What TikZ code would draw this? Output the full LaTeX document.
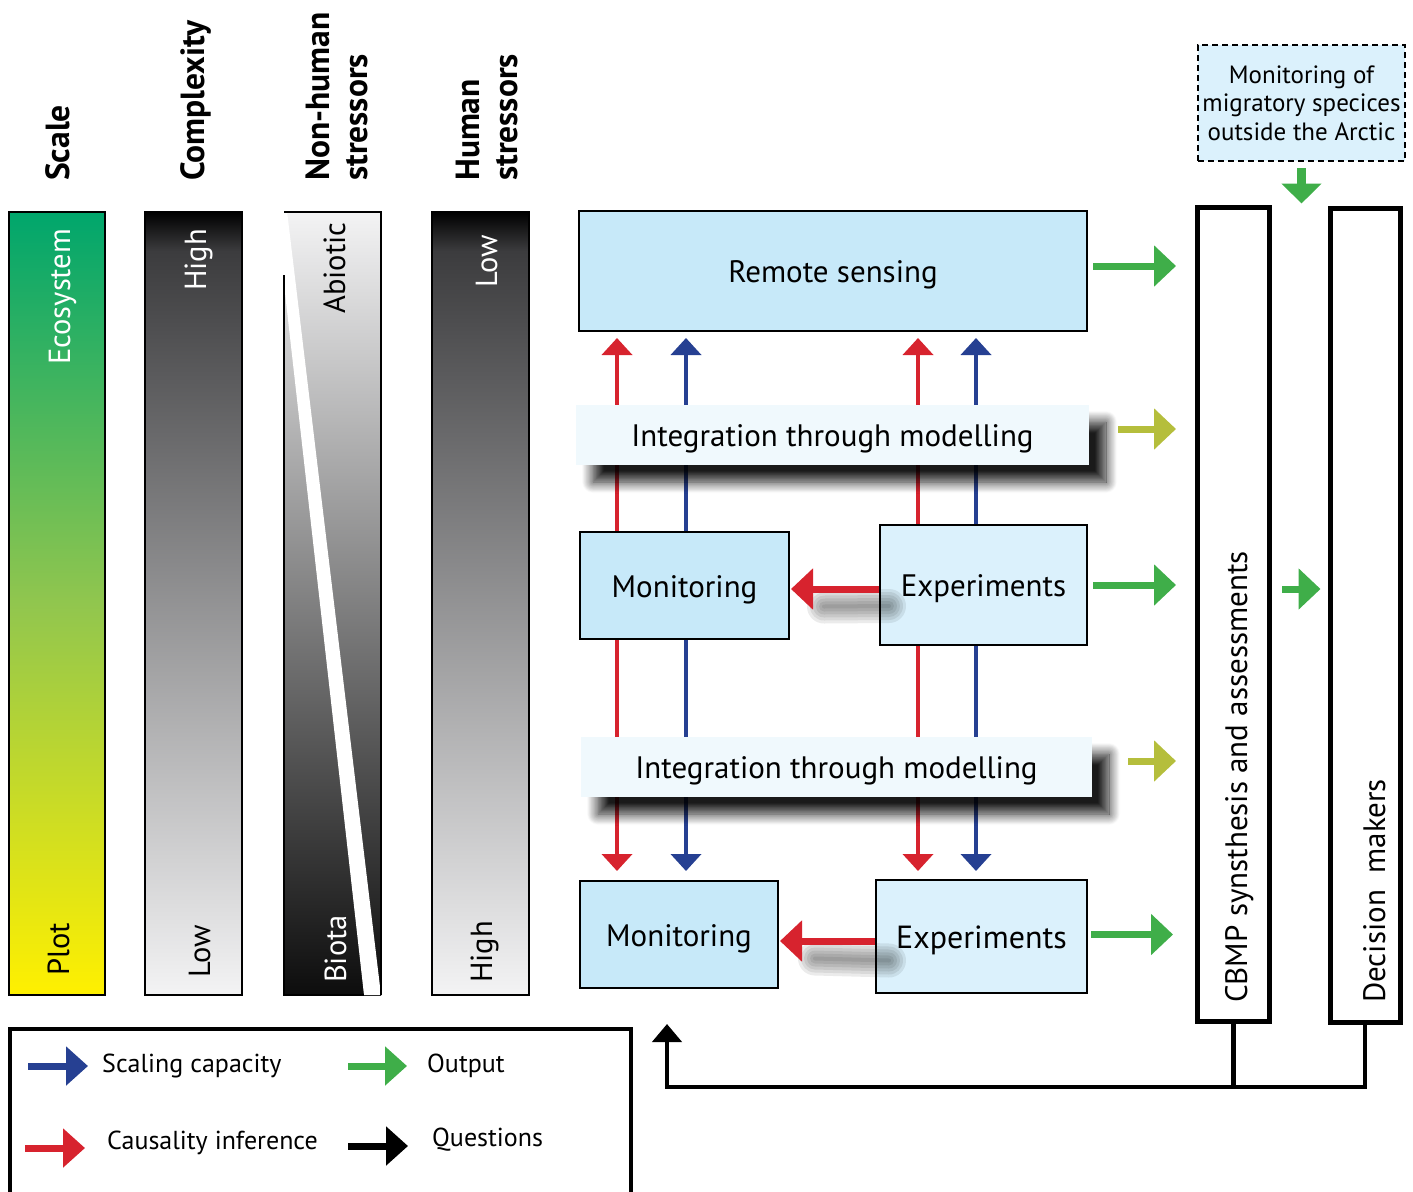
\documentclass[tikz,border=0pt]{standalone}
\usepackage{fontspec}
\setmainfont{PT Sans}
\usetikzlibrary{arrows.meta,shadows.blur,calc}

\definecolor{boxblue}{RGB}{199,233,249}
\definecolor{boxpale}{RGB}{219,241,252}
\definecolor{modelfill}{RGB}{240,249,253}
\definecolor{causred}{RGB}{215,35,46}
\definecolor{scaleblue}{RGB}{38,64,146}
\definecolor{outgreen}{RGB}{63,174,73}
\definecolor{modelgreen}{RGB}{181,190,60}
\definecolor{ecogreen}{RGB}{0,166,108}
\definecolor{midgreen}{RGB}{145,198,78}
\definecolor{plotyellow}{RGB}{255,240,0}
\definecolor{lightend}{RGB}{243,243,244}
\definecolor{darkstart}{RGB}{60,60,62}

\pgfdeclareverticalshading{scalegrad}{100bp}{color(0bp)=(plotyellow); color(25bp)=(plotyellow); color(50bp)=(midgreen); color(75bp)=(ecogreen); color(100bp)=(ecogreen)}
\pgfdeclareverticalshading{darktolight}{100bp}{color(0bp)=(lightend); color(25bp)=(lightend); color(72.5bp)=(darkstart); color(75bp)=(black); color(100bp)=(black)}
\pgfdeclareverticalshading{lighttodark}{100bp}{color(0bp)=(black); color(25bp)=(black!95); color(75bp)=(lightend); color(100bp)=(lightend)}

\newcommand\fshead{\fontsize{33.5}{38}\selectfont\bfseries}
\newcommand\fsbar{\fontsize{30.5}{34}\selectfont}
\newcommand\fsbox{\fontsize{31}{36}\selectfont}
\newcommand\fsleg{\fontsize{26}{30}\selectfont}
\newcommand\fsmig{\fontsize{25}{28.5}\selectfont}

\begin{document}
\begin{tikzpicture}[x=1pt,y=-1pt,
  head/.style={rotate=90, anchor=south west, inner sep=0pt, align=left, font=\fshead},
  barlab/.style={rotate=90, anchor=base west, inner sep=0pt, font=\fsbar},
  barframe/.style={draw=black, line width=2.5pt},
  boxtext/.style={inner sep=0pt, font=\fsbox, text height=23pt, text depth=0pt},
  box/.style={boxtext, draw=black, line width=2pt},
  bluebox/.style={box, fill=boxblue},
  palebox/.style={box, fill=boxpale},
  modelbox/.style={boxtext, fill=modelfill,
    blur shadow={shadow xshift=17pt, shadow yshift=-17pt, shadow blur radius=11pt, shadow blur steps=14, shadow opacity=90}},
  tallbox/.style={draw=black, line width=5pt, fill=white, inner sep=0pt},
  migbox/.style={draw=black, line width=2pt, dash pattern=on 6pt off 4pt, fill=boxpale, align=center, inner sep=0pt, font=\fsmig},
  thinarr/.style={line width=4pt, -{Triangle[width=30pt,length=17pt]}},
  caus/.style={thinarr, draw=causred},
  scal/.style={thinarr, draw=scaleblue},
  fatarr/.style={line width=7pt, -{Triangle[width=40pt,length=22pt]}},
  outarr/.style={fatarr, draw=outgreen},
  modarr/.style={fatarr, draw=modelgreen},
  bigred/.style={fatarr, draw=causred},
  qline/.style={draw=black, line width=4.5pt},
  legtext/.style={anchor=west, inner sep=0pt, font=\fsleg},
  legarr/.style={line width=7pt, -{Triangle[width=38pt,length=22pt]}}
]
\useasboundingbox (0,0) rectangle (1413,1191);

% ---- column headings
\node[head] (hscale) at (70,181) {Scale};
\node[head] (hcomp) at (212,181) {Complexity};
\node[head] (hnon) at (368,181) {Non-human\\stressors};
\node[head] (hhum) at (518,181) {Human\\stressors};

% ---- scale bar
\shade[shading=scalegrad] (9,212) rectangle (105,995);
\draw[barframe] (9,212) rectangle (105,995);
\node[barlab, white] (eco) at (70,365) {Ecosystem};
\node[barlab] (plot) at (69,976) {Plot};

% ---- complexity bar
\shade[shading=darktolight] (145,212) rectangle (242,995);
\draw[barframe] (145,212) rectangle (242,995);
\node[barlab, white] (chigh) at (206,291) {High};
\node[barlab] (clow) at (210,978) {Low};

% ---- non-human stressors bar, split by a white band
\shade[shading=lighttodark] (284,212) rectangle (381,995);
\fill[white] (283,211) -- (287,211) -- (381,995) -- (364,995) -- (283,275) -- cycle;
\draw[barframe] (284,212) -- (381,212) -- (381,995);
\draw[barframe] (284,275) -- (284,995) -- (364,995);
\node[barlab] (abio) at (345,314) {Abiotic};
\node[barlab, white] (biota) at (346,983) {Biota};

% ---- human stressors bar
\shade[shading=darktolight] (432,212) rectangle (529,995);
\draw[barframe] (432,212) rectangle (529,995);
\node[barlab, white] (hlow) at (497,288) {Low};
\node[barlab] (hhigh) at (492,983) {High};

% ---- main boxes
\node[bluebox, minimum width=508pt, minimum height=120pt] (remote) at (833,271) {Remote sensing};
\node[bluebox, minimum width=209pt, minimum height=107pt] (mon1) at (684.5,585.5) {Monitoring};
\node[palebox, minimum width=207pt, minimum height=120pt] (exp1) at (983.5,585) {Experiments};
\node[bluebox, minimum width=198pt, minimum height=107pt] (mon2) at (679,934.5) {Monitoring};
\node[palebox, minimum width=211pt, minimum height=113pt] (exp2) at (981.5,936.5) {\fontsize{32}{36}\selectfont Experiments};

\coordinate (cA) at (617,0);
\coordinate (cB) at (686,0);
\coordinate (cC) at (918,0);
\coordinate (cD) at (976,0);

% ---- vertical links (drawn before the modelling panels, which cover them)
\draw[caus, shorten >=6pt] (mon1.north -| cA) -- (remote.south -| cA);
\draw[scal, shorten >=6pt] (mon1.north -| cB) -- (remote.south -| cB);
\draw[caus, shorten >=6pt] (exp1.north -| cC) -- (remote.south -| cC);
\draw[scal, shorten >=6pt] (exp1.north -| cD) -- (remote.south -| cD);
\draw[caus, shorten >=9pt] (mon1.south -| cA) -- (mon2.north -| cA);
\draw[scal, shorten >=9pt] (mon1.south -| cB) -- (mon2.north -| cB);
\draw[caus, shorten >=8pt] (exp1.south -| cC) -- (exp2.north -| cC);
\draw[scal, shorten >=8pt] (exp1.south -| cD) -- (exp2.north -| cD);

% ---- modelling panels
\node[modelbox, minimum width=513pt, minimum height=60pt] (int1) at (832.5,435) {Integration through modelling};
\node[modelbox, minimum width=511pt, minimum height=60pt] (int2) at (836.5,767) {Integration through modelling};

% ---- experiments to monitoring, with soft shadows
\foreach \w in {34,28,22,16,10,4}{
  \draw[black, opacity=0.08, line width=\w pt, line cap=round]
    ([xshift=34pt,yshift=-21pt]mon1.east) -- ([xshift=10pt,yshift=-21pt]exp1.west);
  \draw[black, opacity=0.08, line width=\w pt, line cap=round]
    ([xshift=36pt,yshift=-24pt]mon2.east) -- ([xshift=14pt,yshift=-24pt]exp2.west);
}
\draw[bigred, shorten >=1pt] ([yshift=-4pt]exp1.west) -- ([yshift=-4pt]exp1.west -| mon1.east);
\draw[bigred, shorten >=1pt] ([yshift=-4.5pt]exp2.west) -- ([yshift=-4.5pt]exp2.west -| mon2.east);

% ---- synthesis and decision columns
\node[tallbox, minimum width=72pt, minimum height=814pt] (cbmp) at (1233.5,614) {};
\node[rotate=90, anchor=base west, inner sep=0pt, font=\fsbox] (cbmptxt) at (1247,1003) {CBMP synsthesis and assessments};
\node[tallbox, minimum width=70pt, minimum height=814pt] (dec) at (1365,615) {};
\node[rotate=90, anchor=base west, inner sep=0pt, font=\fsbox] (dectxt) at (1385,1003) {Decision~ makers};

\node[migbox, minimum width=207pt, minimum height=116pt] (mig) at (1301.5,103) {Monitoring of\\migratory specices\\outside the Arctic};

% ---- outputs
\draw[outarr, shorten <=5pt, shorten >=19pt] ([yshift=5pt]remote.east) -- ([yshift=5pt]remote.east -| cbmp.west);
\draw[modarr, shorten <=29pt, shorten >=19pt] ([yshift=6pt]int1.east) -- ([yshift=6pt]int1.east -| cbmp.west);
\draw[outarr, shorten <=5pt, shorten >=19pt] (exp1.east) -- (exp1.east -| cbmp.west);
\draw[modarr, shorten <=36pt, shorten >=19pt] ([yshift=6pt]int2.east) -- ([yshift=6pt]int2.east -| cbmp.west);
\draw[outarr, shorten <=3pt, shorten >=22pt] ([yshift=2pt]exp2.east) -- ([yshift=2pt]exp2.east -| cbmp.west);
\draw[outarr, shorten <=10pt, shorten >=7pt] ([yshift=25pt]cbmp.east) -- ([yshift=25pt]cbmp.east -| dec.west);
\draw[line width=9pt, draw=outgreen, -{Triangle[width=39pt,length=20pt]}, shorten <=6pt, shorten >=1pt] (mig.south) -- (mig.south |- cbmp.north);

% ---- questions fed back
\coordinate (qcorner) at (667,1087);
\coordinate (qtip) at (667,1024);
\draw[qline] (cbmp.south) -- (cbmp.south |- qcorner);
\draw[qline, -{Triangle[width=29pt,length=18pt]}] (dec.south) -- (dec.south |- qcorner) -- (qcorner) -- (qtip);

% ---- legend
\draw[line width=4pt] (9.5,1195) -- (9.5,1029) -- (631,1029) -- (631,1195);
\node[legtext] (lscal) at (102,1066) {Scaling capacity};
\node[legtext] (lout) at (427,1066) {Output};
\node[legtext] (lcaus) at (107,1143) {Causality inference};
\node[legtext] (lques) at (432,1140) {Questions};
\draw[legarr, draw=scaleblue] ([xshift=-74pt]lscal.west) -- ([xshift=-14pt]lscal.west);
\draw[legarr, draw=outgreen] ([xshift=-79pt]lout.west) -- ([xshift=-20pt]lout.west);
\draw[legarr, draw=causred] ([xshift=-82pt,yshift=-5pt]lcaus.west) -- ([xshift=-22pt,yshift=-5pt]lcaus.west);
\draw[legarr, draw=black] ([xshift=-84pt,yshift=-6pt]lques.west) -- ([xshift=-24pt,yshift=-6pt]lques.west);
\end{tikzpicture}
\end{document}
